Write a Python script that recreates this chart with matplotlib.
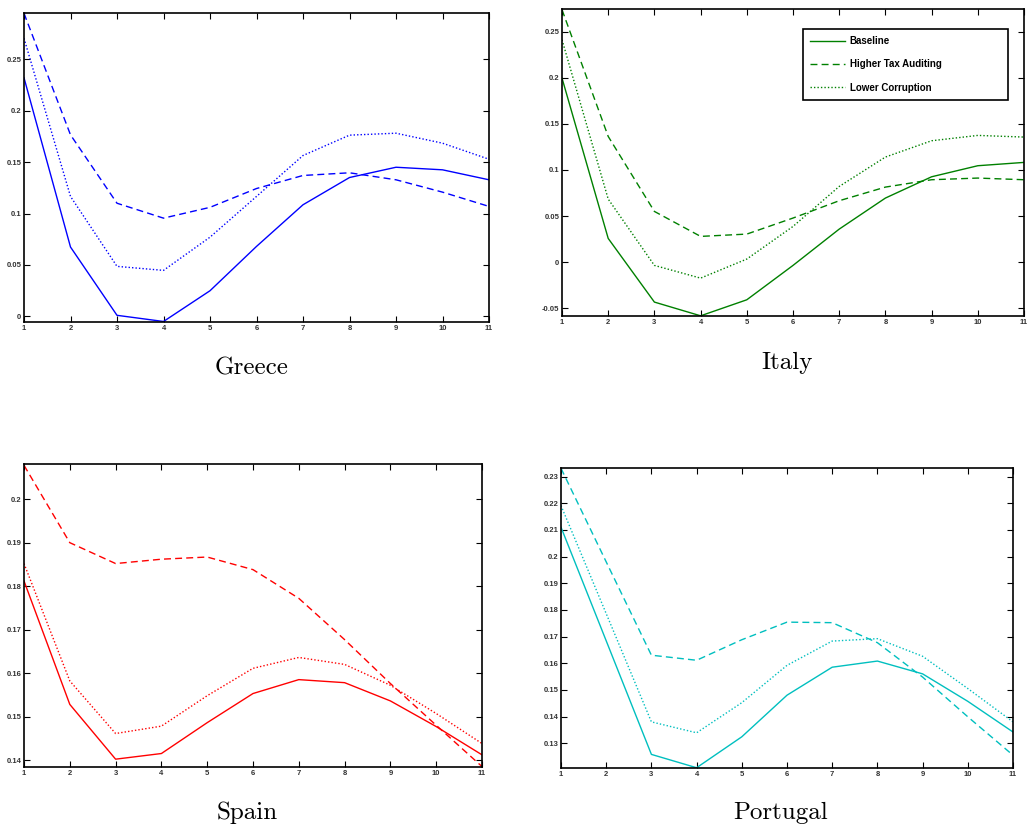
import matplotlib
matplotlib.use("Agg")
import matplotlib.pyplot as plt

periods = list(range(1, 12))

greece_base = [0.232, 0.0674, 0.001, -0.005, 0.0249, 0.068, 0.1085, 0.135, 0.145, 0.1425, 0.1328]
greece_tax = [0.2947, 0.1765, 0.110, 0.0955, 0.106, 0.1243, 0.137, 0.1396, 0.1328, 0.1208, 0.1069]
greece_corr = [0.2704, 0.1166, 0.0486, 0.0447, 0.077, 0.1166, 0.1564, 0.1762, 0.1781, 0.1684, 0.1528]

italy_base = [0.1997, 0.0257, -0.0434, -0.0583, -0.0409, -0.0036, 0.0358, 0.0695, 0.0926, 0.1046, 0.1082]
italy_tax = [0.2739, 0.1364, 0.055, 0.0279, 0.0304, 0.0478, 0.0666, 0.0814, 0.0894, 0.0912, 0.0894]
italy_corr = [0.2413, 0.0684, -0.0036, -0.0174, 0.0033, 0.0387, 0.0821, 0.114, 0.1317, 0.1375, 0.1357]

spain_base = [0.1812, 0.1528, 0.1402, 0.1415, 0.1486, 0.1553, 0.1585, 0.1578, 0.1536, 0.1477, 0.1412]
spain_tax = [0.2078, 0.1900, 0.1852, 0.1862, 0.1867, 0.1838, 0.1772, 0.1677, 0.1576, 0.1480, 0.1385]
spain_corr = [0.1852, 0.1582, 0.1461, 0.1478, 0.1548, 0.1611, 0.1636, 0.1620, 0.1572, 0.1507, 0.1438]

portugal_base = [0.2110, 0.1684, 0.1258, 0.1208, 0.1324, 0.1480, 0.1585, 0.1608, 0.1560, 0.1457, 0.1342]
portugal_tax = [0.2331, 0.1980, 0.1630, 0.1611, 0.1688, 0.1754, 0.1752, 0.1677, 0.1548, 0.1399, 0.1255]
portugal_corr = [0.2191, 0.1786, 0.1380, 0.1339, 0.1452, 0.1592, 0.1683, 0.1692, 0.1626, 0.1505, 0.1380]

greece_yticks = [0, 0.05, 0.1, 0.15, 0.2, 0.25]
italy_yticks = [-0.05, 0, 0.05, 0.1, 0.15, 0.2, 0.25]
spain_yticks = [0.14, 0.15, 0.16, 0.17, 0.18, 0.19, 0.2]
portugal_yticks = [0.13, 0.14, 0.15, 0.16, 0.17, 0.18, 0.19, 0.2, 0.21, 0.22, 0.23]

series_labels = ["Baseline", "Higher Tax Auditing", "Lower Corruption"]

W, H = 1028, 833
fig = plt.figure(figsize=(W / 100, H / 100), dpi=100)

def px_axes(left, right, top, bottom):
    return fig.add_axes([left / W, 1 - bottom / H, (right - left) / W, (bottom - top) / H])

panels = [
    ("Greece", (24, 489, 13, 322), "#0000ff", greece_base, greece_tax, greece_corr,
     greece_yticks, (-0.0055, 0.295), (252, 368)),
    ("Italy", (562, 1024, 9, 316), "#008000", italy_base, italy_tax, italy_corr,
     italy_yticks, (-0.0585, 0.2747), (787, 363)),
    ("Spain", (24, 482, 464, 767), "#ff0000", spain_base, spain_tax, spain_corr,
     spain_yticks, (0.1384, 0.2081), (247, 813)),
    ("Portugal", (561, 1013, 468, 768), "#00bfbf", portugal_base, portugal_tax, portugal_corr,
     portugal_yticks, (0.1207, 0.2332), (781, 813)),
]

tick_font = dict(family="Liberation Sans", size=5.5, weight="bold")

for name, box, color, base, tax, corr, yt, ylim, tpos in panels:
    ax = px_axes(*box)
    l1, = ax.plot(periods, base, color=color, lw=1.0, linestyle="-")
    l2, = ax.plot(periods, tax, color=color, lw=1.0, linestyle=(0, (5, 3)))
    l3, = ax.plot(periods, corr, color=color, lw=1.0, linestyle=(0, (1, 1.5)))
    ax.set_xlim(1, 11)
    ax.set_ylim(*ylim)
    ax.set_xticks(periods)
    ax.set_xticklabels([str(p) for p in periods], fontdict=tick_font, color="#333333")
    ax.set_yticks(yt)
    ax.set_yticklabels([f"{v:g}" for v in yt], fontdict=tick_font, color="#333333")
    ax.tick_params(direction="in", length=4, width=0.8, top=True, right=True, pad=2)
    for s in ax.spines.values():
        s.set_linewidth(1.2)
    fig.text(tpos[0] / W, 1 - tpos[1] / H, name, family="cmr10", fontsize=18,
             ha="center", va="center")
    if name == "Italy":
        leg = ax.legend([l1, l2, l3], series_labels, loc="upper left",
                        bbox_to_anchor=(0.5216, 0.710, 0.4438, 0.2249), mode="expand",
                        fancybox=False, framealpha=1,
                        edgecolor="black", prop=dict(family="Liberation Sans", size=7, weight="bold"),
                        handlelength=3.6, borderpad=0.75, labelspacing=1.35, handletextpad=0.45,
                        borderaxespad=0)
        leg.get_frame().set_linewidth(1.2)

fig.savefig("out.png", dpi=100)
